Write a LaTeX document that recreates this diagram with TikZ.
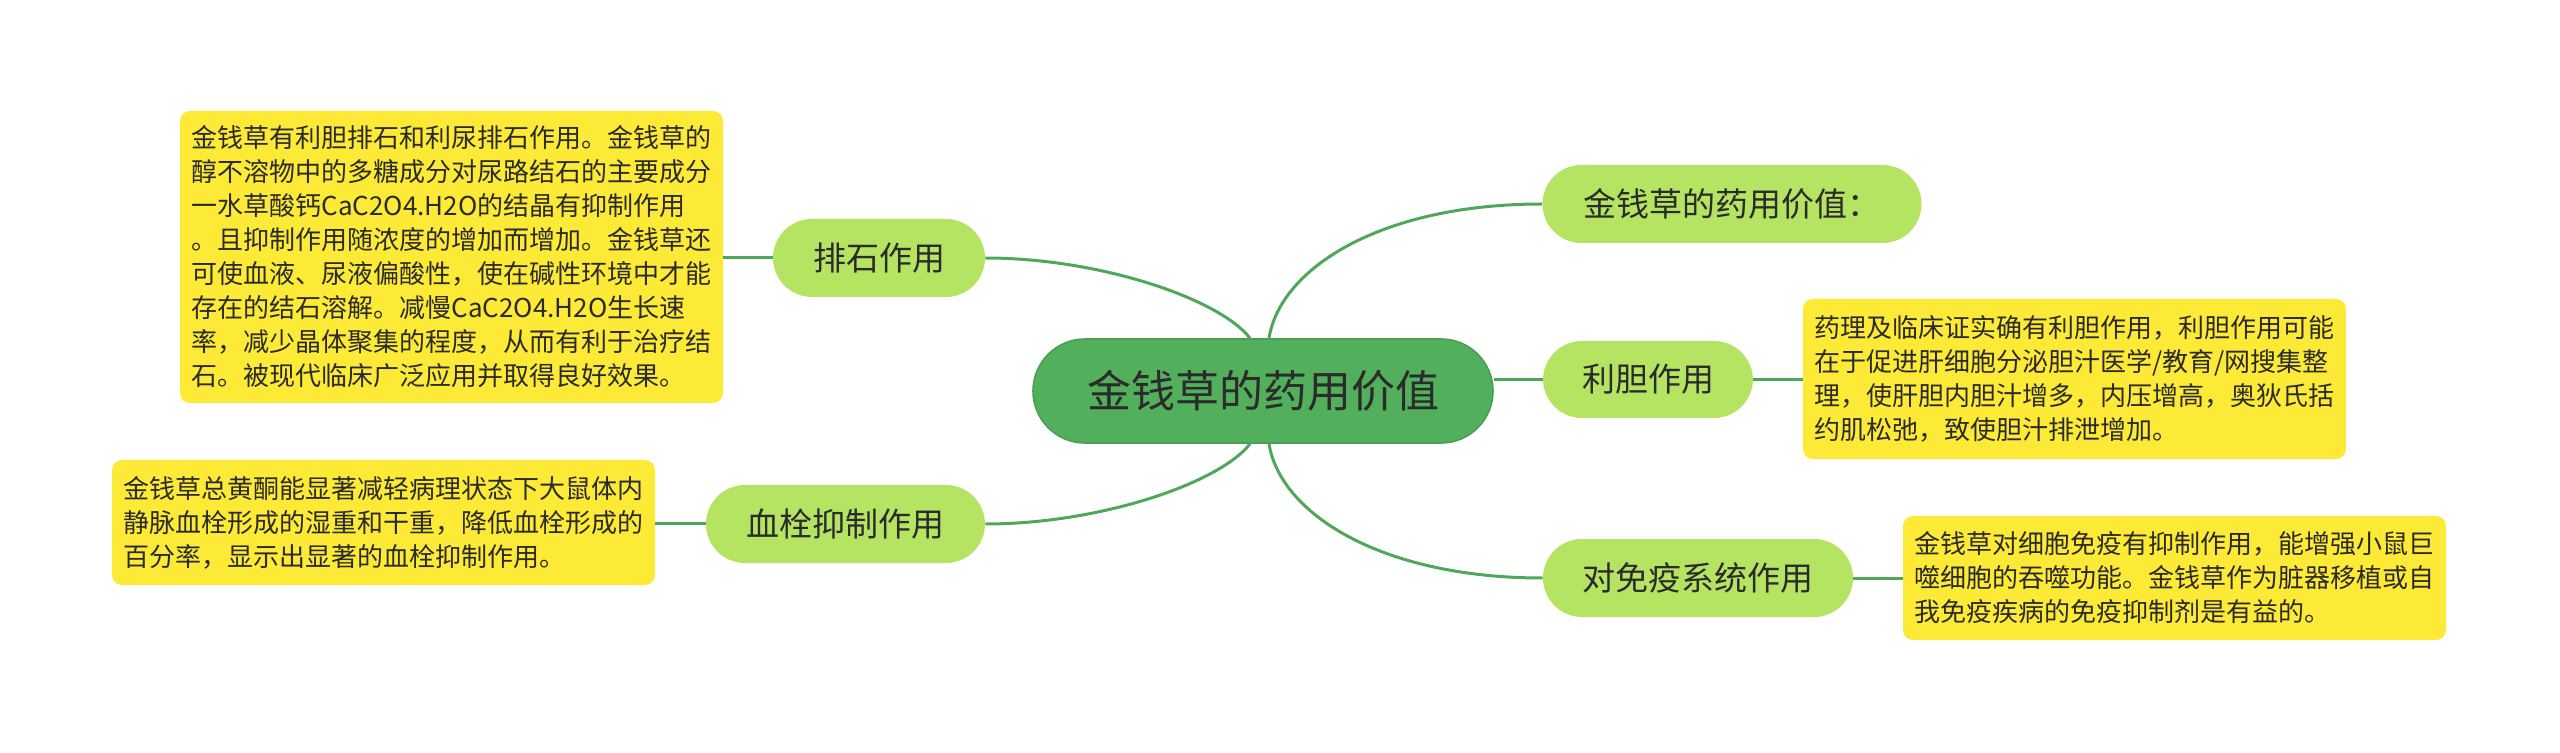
\documentclass[tikz,border=0pt]{standalone}
\usepackage{fontspec}
\newfontfamily\cjk{Noto Sans CJK SC}
\definecolor{linegreen}{HTML}{4FA85A}
\definecolor{rootfill}{HTML}{52AF5C}
\definecolor{rootdraw}{HTML}{4A9F53}
\definecolor{branchfill}{HTML}{B5E462}
\definecolor{notefill}{HTML}{FCEA37}
\definecolor{txt}{HTML}{2B2B2B}
\tikzset{
  rootnode/.style={draw=rootdraw, line width=0.8pt, fill=rootfill, rounded corners=26pt,
    minimum width=230pt, minimum height=52pt, inner sep=0pt, text=txt,
    font=\cjk\fontsize{22}{26}\selectfont},
  branchnode/.style={fill=branchfill, rounded corners=19.5pt, minimum height=39pt,
    inner sep=0pt, text=txt, font=\cjk\fontsize{16.5}{20}\selectfont},
  notenode/.style={fill=notefill, rounded corners=5pt, inner xsep=5.75pt, inner ysep=5pt,
    text width=260pt, align=left, text=txt, font=\cjk\fontsize{13}{17}\selectfont},
  conn/.style={draw=linegreen, line width=1.5pt},
}
\begin{document}
\begin{tikzpicture}[x=0.5pt, y=-0.5pt]
\useasboundingbox (0,0) rectangle (2560,753);
% root
\node[rootnode] (c) at (1263,391) {金钱草的药用价值};
% branches
\node[branchnode, minimum width=106pt] (ps) at (879,258) {排石作用};
\node[branchnode, minimum width=139.5pt] (xs) at (845.5,524) {血栓抑制作用};
\node[branchnode, minimum width=189.5pt] (jq) at (1732,204) {金钱草的药用价值：};
\node[branchnode, minimum width=105pt, minimum height=38.5pt] (ld) at (1648,379.5) {利胆作用};
\node[branchnode, minimum width=155pt] (my) at (1698,578) {对免疫系统作用};
% notes
\node[notenode, minimum height=146pt] (nlt) at (451.5,257) {金钱草有利胆排石和利尿排石作用。金钱草的\\醇不溶物中的多糖成分对尿路结石的主要成分\\一水草酸钙CaC2O4.H2O的结晶有抑制作用\\。且抑制作用随浓度的增加而增加。金钱草还\\可使血液、尿液偏酸性，使在碱性环境中才能\\存在的结石溶解。减慢CaC2O4.H2O生长速\\率，减少晶体聚集的程度，从而有利于治疗结\\石。被现代临床广泛应用并取得良好效果。};
\node[notenode, minimum height=62.5pt] (nlb) at (383.5,522.5) {金钱草总黄酮能显著减轻病理状态下大鼠体内\\静脉血栓形成的湿重和干重，降低血栓形成的\\百分率，显示出显著的血栓抑制作用。};
\node[notenode, minimum height=80pt] (nrt) at (2074.5,379) {药理及临床证实确有利胆作用，利胆作用可能\\在于促进肝细胞分泌胆汁医学/教育/网搜集整\\理，使肝胆内胆汁增多，内压增高，奥狄氏括\\约肌松弛，致使胆汁排泄增加。};
\node[notenode, minimum height=62pt] (nrb) at (2174.5,578) {金钱草对细胞免疫有抑制作用，能增强小鼠巨\\噬细胞的吞噬功能。金钱草作为脏器移植或自\\我免疫疾病的免疫抑制剂是有益的。};
% connectors root -> branches
\draw[conn] ([xshift=-6.5pt]c.north) .. controls +(-15pt,19.5pt) and +(57.5pt,0pt) .. (ps.east);
\draw[conn] ([xshift=3pt]c.north) .. controls +(5.5pt,34.5pt) and +(-81.5pt,0pt) .. (jq.west);
\draw[conn] ([xshift=-6.5pt]c.south) .. controls +(-15pt,-19.5pt) and +(57.5pt,0pt) .. (xs.east);
\draw[conn] ([xshift=3pt]c.south) .. controls +(5.5pt,-34.5pt) and +(-81.5pt,0pt) .. (my.west);
\draw[conn] (ld.west) -- (ld.west -| c.east);
% branches -> notes
\draw[conn] (ps.west) -- (ps.west -| nlt.east);
\draw[conn] (xs.west) -- (xs.west -| nlb.east);
\draw[conn] (ld.east) -- (ld.east -| nrt.west);
\draw[conn] (my.east) -- (my.east -| nrb.west);
\end{tikzpicture}
\end{document}
